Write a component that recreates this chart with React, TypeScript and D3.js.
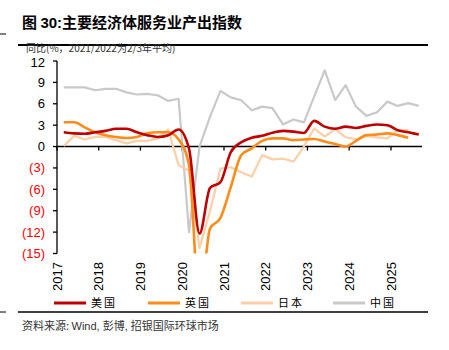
import React from 'react';
import * as d3 from 'd3';

const quarters = [
  '2017Q1', '2017Q2', '2017Q3', '2017Q4',
  '2018Q1', '2018Q2', '2018Q3', '2018Q4',
  '2019Q1', '2019Q2', '2019Q3', '2019Q4',
  '2020Q1', '2020Q2', '2020Q3', '2020Q4',
  '2021Q1', '2021Q2', '2021Q3', '2021Q4',
  '2022Q1', '2022Q2', '2022Q3', '2022Q4',
  '2023Q1', '2023Q2', '2023Q3', '2023Q4',
  '2024Q1', '2024Q2', '2024Q3', '2024Q4',
  '2025Q1', '2025Q2', '2025Q3',
];

// 同比 %
const usValues = [
  2.0, 1.85, 1.8, 2.0, 2.2, 2.5, 2.5, 2.0, 1.6, 1.35, 1.6, 2.4,
  -0.3, -12.2, -5.8, -5.0, -0.8, 0.6, 1.25, 1.5, 1.95, 2.2, 2.1, 1.9,
  3.6, 2.8, 2.5, 2.8, 2.6, 2.9, 3.1, 3.0, 2.3, 2.0, 1.7,
];
const ukValues = [
  3.4, 3.4, 2.7, 2.0, 1.6, 1.35, 1.2, 1.35, 1.85, 2.0, 2.0, 1.0,
  -2.6, -22, -11.5, -10.0, -5.7, -1.2, -0.25, 0.8, 1.15, 1.15, 0.9, 1.0,
  1.05, 0.7, 0.35, 0.0, 0.8, 1.6, 1.7, 1.85, 1.6, 1.25,
];
const jpValues = [
  0.1, 1.5, 1.0, 1.35, 1.35, 0.9, 0.45, 0.8, 0.8, 1.15, 2.4, -2.6,
  -3.4, -14.2, -9.0, -3.1, -2.9, -3.6, -4.2, -1.2, -1.8, -1.7, -2.1, 0.0,
  2.55, 1.4, 2.45, 1.3, 1.0, 1.5, 1.3, 1.15, 2.3, 2.3,
];
const cnValues = [
  8.3, 8.3, 8.3, 7.9, 8.1, 8.1, 7.6, 7.3, 7.4, 7.2, 6.4, 6.7,
  -12.0, 0.0, 4.2, 7.8, 6.9, 6.5, 5.1, 5.6, 5.4, 3.1, 3.8, 3.4,
  7.0, 10.7, 6.5, 8.6, 5.6, 4.3, 4.8, 6.3, 5.7, 6.1, 5.7,
];

const yearTicks = ['2017', '2018', '2019', '2020', '2021', '2022', '2023', '2024', '2025'];
const yTicks = [12, 9, 6, 3, 0, -3, -6, -9, -12, -15];
const seriesNames = ['美国', '英国', '日本', '中国'];
const seriesColors = ['#C00000', '#FF8C1A', '#FCCFA6', '#C9C9C9'];

const FONT = '"Liberation Sans", Arial, "Noto Sans CJK SC", sans-serif';
const CJK = '"Noto Sans CJK SC", "Liberation Sans", sans-serif';

const parseQ = (s: string) => {
  const yr = +s.slice(0, 4);
  const q = +s.slice(5);
  return new Date(yr, (q - 1) * 3 + 2, 1);
};

export default function App() {
  const width = 449;
  const height = 350;
  const left = 57;
  const right = 422;
  const top = 61;
  const bottom = 253.5;

  const x = d3.scaleTime()
    .domain([new Date(2017, 0, 1), new Date(2025, 0, 1)])
    .range([left, 391]);
  const y = d3.scaleLinear().domain([-15, 12]).range([bottom, top]);

  const seriesData = [usValues, ukValues, jpValues, cnValues];
  const widths = [2.6, 2.6, 2.2, 2.2];

  const smooth = d3.line<number>()
    .x((d, i) => x(parseQ(quarters[i])))
    .y(d => y(d))
    .curve(d3.curveMonotoneX);
  const straight = d3.line<number>()
    .x((d, i) => x(parseQ(quarters[i])))
    .y(d => y(d));

  const drawOrder = [3, 2, 1, 0];
  const legendX = [54, 148, 241, 333];

  return (
    <svg width={width} height={height} style={{ position: 'absolute', left: 0, top: 0 }}>
      <rect width={width} height={height} fill="#fff" />
      <text x={22} y={28} fontFamily={CJK} fontSize={15} fontWeight="bold" fill="#000">
        图 <tspan fontFamily={FONT}>30:</tspan>主要经济体服务业产出指数
      </text>
      <line x1={0} x2={6} y1={34} y2={34} stroke="#000" strokeWidth={1} />
      <line x1={18} x2={428} y1={45} y2={45} stroke="#000" strokeWidth={2} />
      <text x={26} y={51} dy="0.1em" fontFamily={CJK} fontSize={10} fill="#333">
        同比(%，2021/2022为2/3年平均)
      </text>

      <defs>
        <clipPath id="plotClip">
          <rect x={left} y={top - 5} width={right - left + 5} height={bottom - top + 5} />
        </clipPath>
      </defs>

      {/* y axis */}
      <line x1={left} x2={left} y1={y(12)} y2={y(-15)} stroke="#000" strokeWidth={1.3} />
      {yTicks.map(v => (
        <g key={v}>
          <line x1={left - 4} x2={left} y1={y(v)} y2={y(v)} stroke="#000" strokeWidth={1.3} />
          <text
            x={45}
            y={y(v)}
            dy={v === 12 ? '0.45em' : '0.35em'}
            textAnchor="end"
            fontFamily={FONT}
            fontSize={13}
            fill={v < 0 ? '#FF0000' : '#000'}
          >
            {v < 0 ? `(${-v})` : `${v}`}
          </text>
        </g>
      ))}

      {/* x axis at zero */}
      <line x1={left} x2={right} y1={y(0)} y2={y(0)} stroke="#000" strokeWidth={1.5} />
      {yearTicks.map(t => {
        const px = x(new Date(+t, 0, 1));
        return (
          <g key={t}>
            <line x1={px} x2={px} y1={y(0)} y2={y(0) + 4} stroke="#000" strokeWidth={1.3} />
            <text
              transform={`translate(${px},262) rotate(-90)`}
              dy="0.35em"
              textAnchor="end"
              fontFamily={FONT}
              fontSize={13}
              fill="#000"
            >
              {t}
            </text>
          </g>
        );
      })}

      <g clipPath="url(#plotClip)">
        {drawOrder.map(k => (
          <path
            key={k}
            d={(k < 2 ? smooth : straight)(seriesData[k]) || ''}
            fill="none"
            stroke={seriesColors[k]}
            strokeWidth={widths[k]}
            strokeLinejoin="round"
          />
        ))}
      </g>

      {/* legend */}
      {seriesNames.map((n, i) => (
        <g key={n}>
          <line x1={legendX[i]} x2={legendX[i] + 32} y1={303} y2={303} stroke={seriesColors[i]} strokeWidth={3} />
          <text x={legendX[i] + 37} y={303} dy="0.38em" fontFamily={CJK} fontSize={11} letterSpacing={2} fill="#000">
            {n}
          </text>
        </g>
      ))}

      <line x1={0} x2={6} y1={312} y2={312} stroke="#000" strokeWidth={1} />
      <line x1={18} x2={428} y1={312} y2={312} stroke="#000" strokeWidth={1.5} />
      <text x={22} y={330} fontFamily={CJK} fontSize={11} fill="#333">
        资料来源: <tspan fontFamily={FONT}>Wind, </tspan>彭博<tspan fontFamily={FONT}>, </tspan>招银国际环球市场
      </text>
    </svg>
  );
}
